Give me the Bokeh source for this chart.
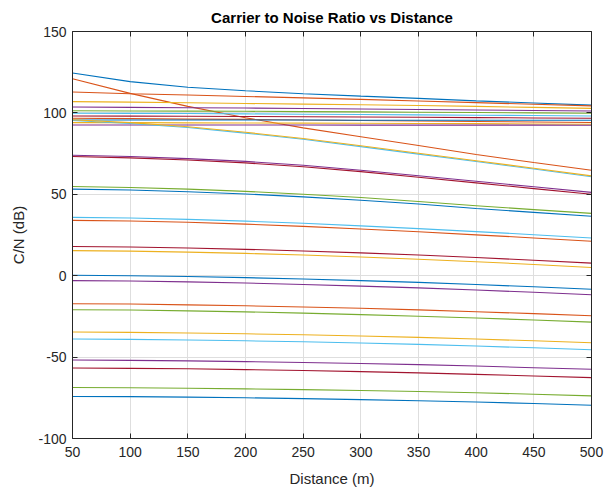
from bokeh.plotting import figure
from bokeh.models import LinearAxis, Range1d, FixedTicker, CustomJSTickFormatter, CustomLabelingPolicy
from bokeh.embed import file_html
from bokeh.resources import INLINE

distance = [50, 100, 150, 200, 250, 300, 350, 400, 450, 500]

cn_blue_top = [124.5, 119.2, 115.8, 113.6, 111.8, 110.3, 108.9, 107.4, 106.1, 104.8]
cn_orange_steep = [121.0, 112.0, 104.0, 97.0, 90.8, 85.4, 80.0, 74.4, 69.5, 64.8]
cn_orange_112 = [112.8, 111.8, 111.0, 110.1, 109.2, 108.3, 107.3, 106.3, 105.3, 104.3]
cn_yellow_107 = [106.9, 106.6, 106.2, 105.8, 105.4, 105.0, 104.5, 104.0, 103.4, 102.8]
cn_purple_104 = [103.6, 103.4, 103.2, 103.0, 102.7, 102.4, 102.1, 101.8, 101.5, 101.2]
cn_green_101 = [101.3, 101.2, 101.1, 101.0, 100.8, 100.6, 100.4, 100.2, 100.0, 99.8]
cn_lblue_100 = [99.8, 99.7, 99.6, 99.4, 99.2, 99.0, 98.8, 98.6, 98.4, 98.1]
cn_red_98 = [98.1, 98.0, 97.9, 97.8, 97.6, 97.5, 97.3, 97.1, 96.9, 96.7]
cn_orange_97 = [96.7, 96.5, 96.2, 96.0, 95.6, 95.3, 95.0, 94.7, 94.4, 94.1]
cn_blue_96 = [95.6, 95.6, 95.6, 95.6, 95.6, 95.5, 95.5, 95.5, 95.5, 95.5]
cn_yellow_94 = [94.0, 94.0, 93.9, 93.8, 93.7, 93.6, 93.5, 93.4, 93.2, 93.0]
cn_purple_93 = [92.6, 92.6, 92.6, 92.6, 92.6, 92.5, 92.5, 92.5, 92.5, 92.4]
cn_lblue_95 = [95.3, 93.5, 91.0, 87.6, 83.8, 79.3, 74.7, 70.1, 65.5, 60.8]
cn_yellow_96 = [95.8, 94.0, 91.5, 88.1, 84.3, 79.8, 75.2, 70.6, 66.0, 61.3]
cn_purple_74 = [74.0, 73.2, 71.9, 70.2, 67.8, 64.8, 61.4, 58.0, 54.6, 51.2]
cn_red_73 = [73.2, 72.4, 71.1, 69.3, 66.9, 63.9, 60.5, 57.0, 53.5, 50.0]
cn_green_55 = [54.8, 54.2, 53.2, 51.8, 50.0, 48.0, 45.6, 43.0, 40.6, 38.3]
cn_blue_53 = [53.2, 52.6, 51.6, 50.2, 48.4, 46.3, 44.0, 41.3, 38.9, 36.5]
cn_lblue_36 = [35.8, 35.4, 34.6, 33.5, 32.2, 30.6, 28.9, 27.1, 25.2, 23.2]
cn_orange_34 = [34.0, 33.6, 32.8, 31.7, 30.3, 28.7, 27.0, 25.1, 23.2, 21.2]
cn_red_18 = [17.9, 17.6, 17.0, 16.2, 15.2, 14.0, 12.7, 11.2, 9.5, 7.7]
cn_yellow_15 = [15.4, 15.1, 14.5, 13.7, 12.7, 11.5, 10.1, 8.6, 6.9, 5.0]
cn_blue_0 = [0.3, 0.0, -0.5, -1.2, -2.0, -3.0, -4.1, -5.4, -6.8, -8.3]
cn_purple_m3 = [-3.0, -3.3, -3.8, -4.5, -5.4, -6.4, -7.5, -8.8, -10.2, -11.7]
cn_orange_m17 = [-17.2, -17.4, -17.9, -18.5, -19.2, -20.0, -21.0, -22.1, -23.3, -24.6]
cn_green_m21 = [-20.9, -21.1, -21.6, -22.2, -23.0, -23.9, -24.9, -26.0, -27.2, -28.5]
cn_yellow_m35 = [-34.6, -34.8, -35.2, -35.7, -36.3, -37.0, -37.9, -38.9, -40.0, -41.2]
cn_lblue_m39 = [-38.9, -39.1, -39.5, -40.0, -40.6, -41.3, -42.2, -43.2, -44.3, -45.5]
cn_purple_m52 = [-51.8, -52.0, -52.3, -52.8, -53.3, -53.9, -54.6, -55.5, -56.5, -57.5]
cn_red_m57 = [-56.7, -56.9, -57.2, -57.7, -58.2, -58.9, -59.7, -60.6, -61.6, -62.6]
cn_green_m69 = [-68.7, -68.8, -69.1, -69.5, -70.0, -70.5, -71.1, -71.9, -72.8, -73.8]
cn_blue_m74 = [-74.2, -74.3, -74.6, -75.0, -75.5, -76.1, -76.8, -77.6, -78.5, -79.6]

x_ticks = [50, 100, 150, 200, 250, 300, 350, 400, 450, 500]
y_ticks = [-100, -50, 0, 50, 100, 150]

BLUE, ORANGE, YELLOW, PURPLE = "#0072BD", "#D95319", "#EDB120", "#7E2F8E"
GREEN, LBLUE, RED = "#77AC30", "#4DBEEE", "#A2142F"

series = [
    (cn_blue_top, BLUE), (cn_orange_steep, ORANGE), (cn_orange_112, ORANGE),
    (cn_yellow_107, YELLOW), (cn_purple_104, PURPLE), (cn_green_101, GREEN),
    (cn_lblue_100, LBLUE), (cn_red_98, RED), (cn_orange_97, ORANGE),
    (cn_blue_96, BLUE), (cn_yellow_94, YELLOW), (cn_purple_93, PURPLE),
    (cn_lblue_95, LBLUE), (cn_yellow_96, YELLOW),
    (cn_purple_74, PURPLE), (cn_red_73, RED),
    (cn_green_55, GREEN), (cn_blue_53, BLUE),
    (cn_lblue_36, LBLUE), (cn_orange_34, ORANGE),
    (cn_red_18, RED), (cn_yellow_15, YELLOW),
    (cn_blue_0, BLUE), (cn_purple_m3, PURPLE),
    (cn_orange_m17, ORANGE), (cn_green_m21, GREEN),
    (cn_yellow_m35, YELLOW), (cn_lblue_m39, LBLUE),
    (cn_purple_m52, PURPLE), (cn_red_m57, RED),
    (cn_green_m69, GREEN), (cn_blue_m74, BLUE),
]

FONT = "Liberation Sans"
AX = "#262626"

p = figure(width=605, height=492, x_range=Range1d(50, 500), y_range=Range1d(-100, 150),
           output_backend="svg", toolbar_location=None,
           min_border_left=72, min_border_right=14, min_border_top=30, min_border_bottom=54,
           title="Carrier to Noise Ratio vs Distance")
p.title.align = "center"
p.title.text_font = FONT
p.title.text_font_size = "15px"
p.title.text_font_style = "bold"
p.title.text_color = "#000000"
p.title.standoff = 12
p.outline_line_color = None
p.background_fill_color = "white"
p.border_fill_color = "white"

for ys, c in series:
    p.line(distance, ys, line_color=c, line_width=1.1)

plain = CustomJSTickFormatter(code="return String(tick);")
no_labels = CustomLabelingPolicy(code="""
for (const i of indices) { indices.unset(i) }
return indices
""")

def style_axis(ax, ticks, show_labels):
    ax.ticker = FixedTicker(ticks=ticks)
    ax.axis_line_color = AX
    ax.axis_line_width = 1
    ax.major_tick_line_color = AX
    ax.major_tick_in = 5
    ax.major_tick_out = 0
    ax.minor_tick_line_color = None
    ax.major_label_text_font = FONT
    ax.major_label_text_color = AX
    ax.formatter = plain
    if show_labels:
        ax.major_label_text_font_size = "14px"
        ax.axis_label_text_font = FONT
        ax.axis_label_text_font_size = "15px"
        ax.axis_label_text_font_style = "normal"
        ax.axis_label_text_color = AX
    else:
        ax.major_label_text_font_size = "0px"
        ax.major_label_policy = no_labels
        ax.major_label_standoff = 0

p.xaxis.axis_label = "Distance (m)"
p.yaxis.axis_label = "C/N (dB)"
style_axis(p.xaxis[0], x_ticks, True)
style_axis(p.yaxis[0], y_ticks, True)
p.xaxis.major_label_standoff = 8
p.xaxis.axis_label_standoff = 10
p.yaxis.major_label_standoff = 6
p.yaxis.axis_label_standoff = 8

top_ax = LinearAxis()
right_ax = LinearAxis()
style_axis(top_ax, x_ticks, False)
style_axis(right_ax, y_ticks, False)
p.add_layout(top_ax, "above")
p.add_layout(right_ax, "right")

p.xgrid.ticker = FixedTicker(ticks=x_ticks)
p.ygrid.ticker = FixedTicker(ticks=y_ticks)
p.grid.grid_line_color = "#dedede"
p.grid.grid_line_width = 1

open("out.html", "w").write(file_html(p, INLINE))
